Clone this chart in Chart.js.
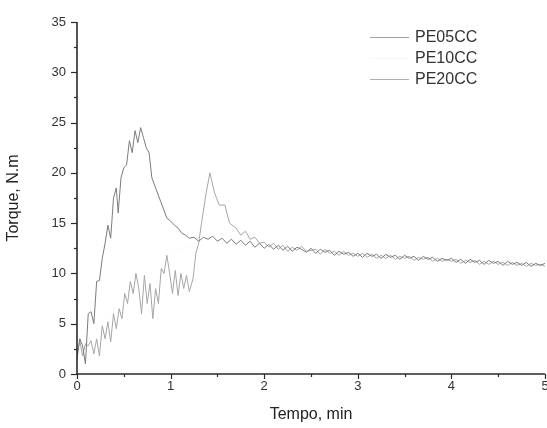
<!DOCTYPE html>
<html>
<head>
<meta charset="utf-8">
<script src="https://cdn.jsdelivr.net/npm/chart.js@4/dist/chart.umd.min.js"></script>
<style>
html,body{margin:0;padding:0;background:#fff;}
#wrap{width:547px;height:428px;position:relative;}
</style>
</head>
<body>
<div id="wrap"><canvas id="c" width="547" height="428"></canvas></div>
<script>
const seriesLabels = ['PE05CC', 'PE10CC', 'PE20CC'];
const seriesColors = ['#7c7c7c', '#fbfbfb', '#a6a6a6'];

// PE05CC – fast rising curve
const timeA = [0,0.03,0.06,0.09,0.12,0.15,0.18,0.21,0.24,0.27,0.30,0.33,0.36,0.39,0.42,0.44,0.47,0.50,0.53,0.56,0.59,0.62,0.65,0.68,0.71,0.74,0.77,0.80,0.84,0.88,0.92,0.96,1.00,1.04,1.08,1.12,1.16,1.20,1.25,1.30,1.35,1.40,1.45,1.50,1.55,1.60,1.65,1.70,1.75,1.80,1.85,1.90,1.95,2.00,
  2.05,2.10,2.15,2.20,2.25,2.30,2.35,2.40,2.45,2.50,2.55,2.60,2.65,2.70,2.75,2.80,2.85,2.90,2.95,3.00,3.05,3.10,3.15,3.20,3.25,3.30,3.35,3.40,3.45,3.50,3.55,3.60,3.65,3.70,3.75,3.80,3.85,3.90,3.95,4.00,4.05,4.10,4.15,4.20,4.25,4.30,4.35,4.40,4.45,4.50,4.55,4.60,4.65,4.70,4.75,4.80,4.85,4.90,4.95,5.00];
const torqueA = [1.5,3.5,2.8,1.0,6.0,6.2,5.0,9.2,9.3,11.5,13.0,14.8,13.5,17.5,18.5,16.0,19.5,20.5,20.8,23.2,22.0,24.2,23.0,24.5,23.5,22.5,22.0,19.5,18.5,17.5,16.5,15.5,15.2,14.8,14.5,14.0,13.8,13.5,13.6,13.2,13.6,13.4,13.7,13.2,13.5,13.0,13.4,12.9,13.3,12.8,13.2,12.6,13.0,12.5,
  12.9,12.4,12.8,12.3,12.7,12.2,12.6,12.4,12.1,12.5,12.0,12.4,12.1,12.3,11.8,12.2,11.9,12.1,11.7,12.0,11.6,12.0,11.7,11.9,11.5,11.9,11.6,11.8,11.4,11.8,11.5,11.7,11.3,11.7,11.4,11.6,11.2,11.5,11.3,11.5,11.1,11.4,11.0,11.4,11.1,11.3,10.9,11.3,11.0,11.2,10.8,11.2,10.9,11.1,10.8,11.1,10.7,11.0,10.8,11.0];

// PE10CC – hardly visible in the reference
const timeB = [0,0.5,1,1.5,2,3,4,5];
const torqueB = [2,8,12,14,12.8,12,11.4,11];

// PE20CC – slow curve with second peak
const timeC = [0,0.03,0.06,0.09,0.12,0.15,0.18,0.21,0.24,0.27,0.30,0.33,0.36,0.39,0.42,0.45,0.48,0.51,0.54,0.57,0.60,0.63,0.66,0.69,0.72,0.75,0.78,0.81,0.84,0.87,0.90,0.93,0.96,0.99,1.02,1.05,1.08,1.11,1.14,1.17,1.20,1.24,1.27,1.30,1.33,1.38,1.42,1.47,1.52,1.58,1.63,1.70,1.75,1.80,1.85,1.90,1.95,2.00,
  2.05,2.10,2.15,2.20,2.25,2.30,2.35,2.40,2.45,2.50,2.55,2.60,2.65,2.70,2.75,2.80,2.85,2.90,2.95,3.00,3.05,3.10,3.15,3.20,3.25,3.30,3.35,3.40,3.45,3.50,3.55,3.60,3.65,3.70,3.75,3.80,3.85,3.90,3.95,4.00,4.05,4.10,4.15,4.20,4.25,4.30,4.35,4.40,4.45,4.50,4.55,4.60,4.65,4.70,4.75,4.80,4.85,4.90,4.95,5.00];
const torqueC = [2.0,3.3,1.8,3.0,2.8,3.3,2.0,3.5,1.8,4.8,3.5,5.2,3.2,6.0,4.5,6.5,5.5,8.0,7.0,9.2,8.0,10.0,8.5,6.0,9.8,7.0,9.0,5.5,8.5,7.0,10.5,10.0,11.8,10.0,8.0,10.3,7.8,10.0,8.5,9.8,8.2,9.5,12.0,13.0,15.0,18.0,20.0,18.0,16.8,16.8,15.0,14.5,13.8,14.2,13.4,13.6,13.0,13.1,
  12.6,13.0,12.4,12.8,12.2,12.6,12.3,12.7,12.2,12.3,12.4,11.9,12.4,12.0,12.2,11.8,12.2,11.8,12.0,11.7,12.0,11.6,11.9,11.5,11.8,11.5,11.8,11.4,11.7,11.5,11.7,11.3,11.6,11.4,11.6,11.2,11.5,11.2,11.4,11.2,11.4,11.0,11.3,11.1,11.3,10.9,11.2,10.9,11.2,10.9,11.1,10.8,11.1,10.8,11.0,10.7,11.0,10.8,10.9,10.7];

const xTicks = [0,1,2,3,4,5];
const yTicks = [0,5,10,15,20,25,30,35];

const toPts = (t, v) => t.map((x, i) => ({x: x, y: v[i]}));
const allTimes = [timeA, timeB, timeC];
const allTorques = [torqueA, torqueB, torqueC];

const datasets = seriesLabels.map((lab, i) => ({
  label: lab,
  data: toPts(allTimes[i], allTorques[i]),
  borderColor: seriesColors[i],
  borderWidth: 1,
  pointRadius: 0,
  tension: 0,
  fill: false,
  order: i === 1 ? 10 : i
}));

const FONT = '"Liberation Sans", Arial, sans-serif';
const AXIS = '#2a2a2a';

const legendPlugin = {
  id: 'inlegend',
  afterDraw(chart) {
    const ctx = chart.ctx;
    ctx.save();
    ctx.font = '16px ' + FONT;
    ctx.textBaseline = 'middle';
    ctx.fillStyle = '#333';
    const rows = [37, 58, 79];
    const lineCols = ['#a0a0a0', '#f6f6f6', '#b0b0b0'];
    chart.data.datasets.forEach((ds, i) => {
      const y = rows[i] + 0.5;
      ctx.strokeStyle = lineCols[i];
      ctx.lineWidth = 1;
      ctx.beginPath(); ctx.moveTo(370, y); ctx.lineTo(409, y); ctx.stroke();
      ctx.fillText(ds.label, 415, y);
    });
    ctx.restore();
  }
};

const ticksPlugin = {
  id: 'minorticks',
  afterDraw(chart) {
    const ctx = chart.ctx;
    const xs = chart.scales.x, ys = chart.scales.y;
    const a = chart.chartArea;
    ctx.save();
    ctx.strokeStyle = AXIS;
    ctx.lineWidth = 1.2;
    for (let v = 0; v <= 5.0001; v += 0.5) {
      const px = Math.round(xs.getPixelForValue(v)) + 0.5;
      const major = Math.abs(v - Math.round(v)) < 1e-6;
      ctx.beginPath(); ctx.moveTo(px, a.bottom); ctx.lineTo(px, a.bottom + (major ? 5 : 3)); ctx.stroke();
    }
    for (let v = 0; v <= 35.0001; v += 2.5) {
      const py = Math.round(ys.getPixelForValue(v)) + 0.5;
      const major = Math.abs(v / 5 - Math.round(v / 5)) < 1e-6;
      ctx.beginPath(); ctx.moveTo(a.left, py); ctx.lineTo(a.left - (major ? 6 : 3), py); ctx.stroke();
    }
    ctx.lineWidth = 1.6;
    ctx.beginPath();
    ctx.moveTo(a.left, a.top); ctx.lineTo(a.left, a.bottom); ctx.lineTo(a.right, a.bottom);
    ctx.stroke();
    ctx.restore();
  }
};

new Chart(document.getElementById('c'), {
  type: 'line',
  data: { datasets: datasets },
  plugins: [legendPlugin, ticksPlugin],
  options: {
    responsive: false,
    animation: false,
    layout: { padding: { top: 22, right: 2, left: 0, bottom: 0 } },
    plugins: { legend: { display: false }, tooltip: { enabled: false } },
    scales: {
      x: {
        type: 'linear', min: 0, max: 5,
        afterBuildTicks: s => { s.ticks = xTicks.map(v => ({value: v})); },
        afterFit: s => { s.height = 54; s.paddingRight = 0; s.paddingLeft = 0; },
        grid: { display: false, drawTicks: false },
        border: { display: false },
        ticks: { color: '#333', font: { family: FONT, size: 13 }, padding: 5, maxRotation: 0 },
        title: { display: true, text: 'Tempo, min', color: '#222', font: { family: FONT, size: 16 }, padding: { top: 6 } }
      },
      y: {
        type: 'linear', min: 0, max: 35,
        afterBuildTicks: s => { s.ticks = yTicks.map(v => ({value: v})); },
        afterFit: s => { s.width = 77; s.paddingTop = 0; s.paddingBottom = 0; },
        grid: { display: false, drawTicks: false },
        border: { display: false },
        ticks: { color: '#333', font: { family: FONT, size: 13 }, padding: 11 },
        title: { display: true, text: 'Torque, N.m', color: '#222', font: { family: FONT, size: 16 }, padding: { bottom: 8 } }
      }
    }
  }
});
</script>
</body>
</html>
